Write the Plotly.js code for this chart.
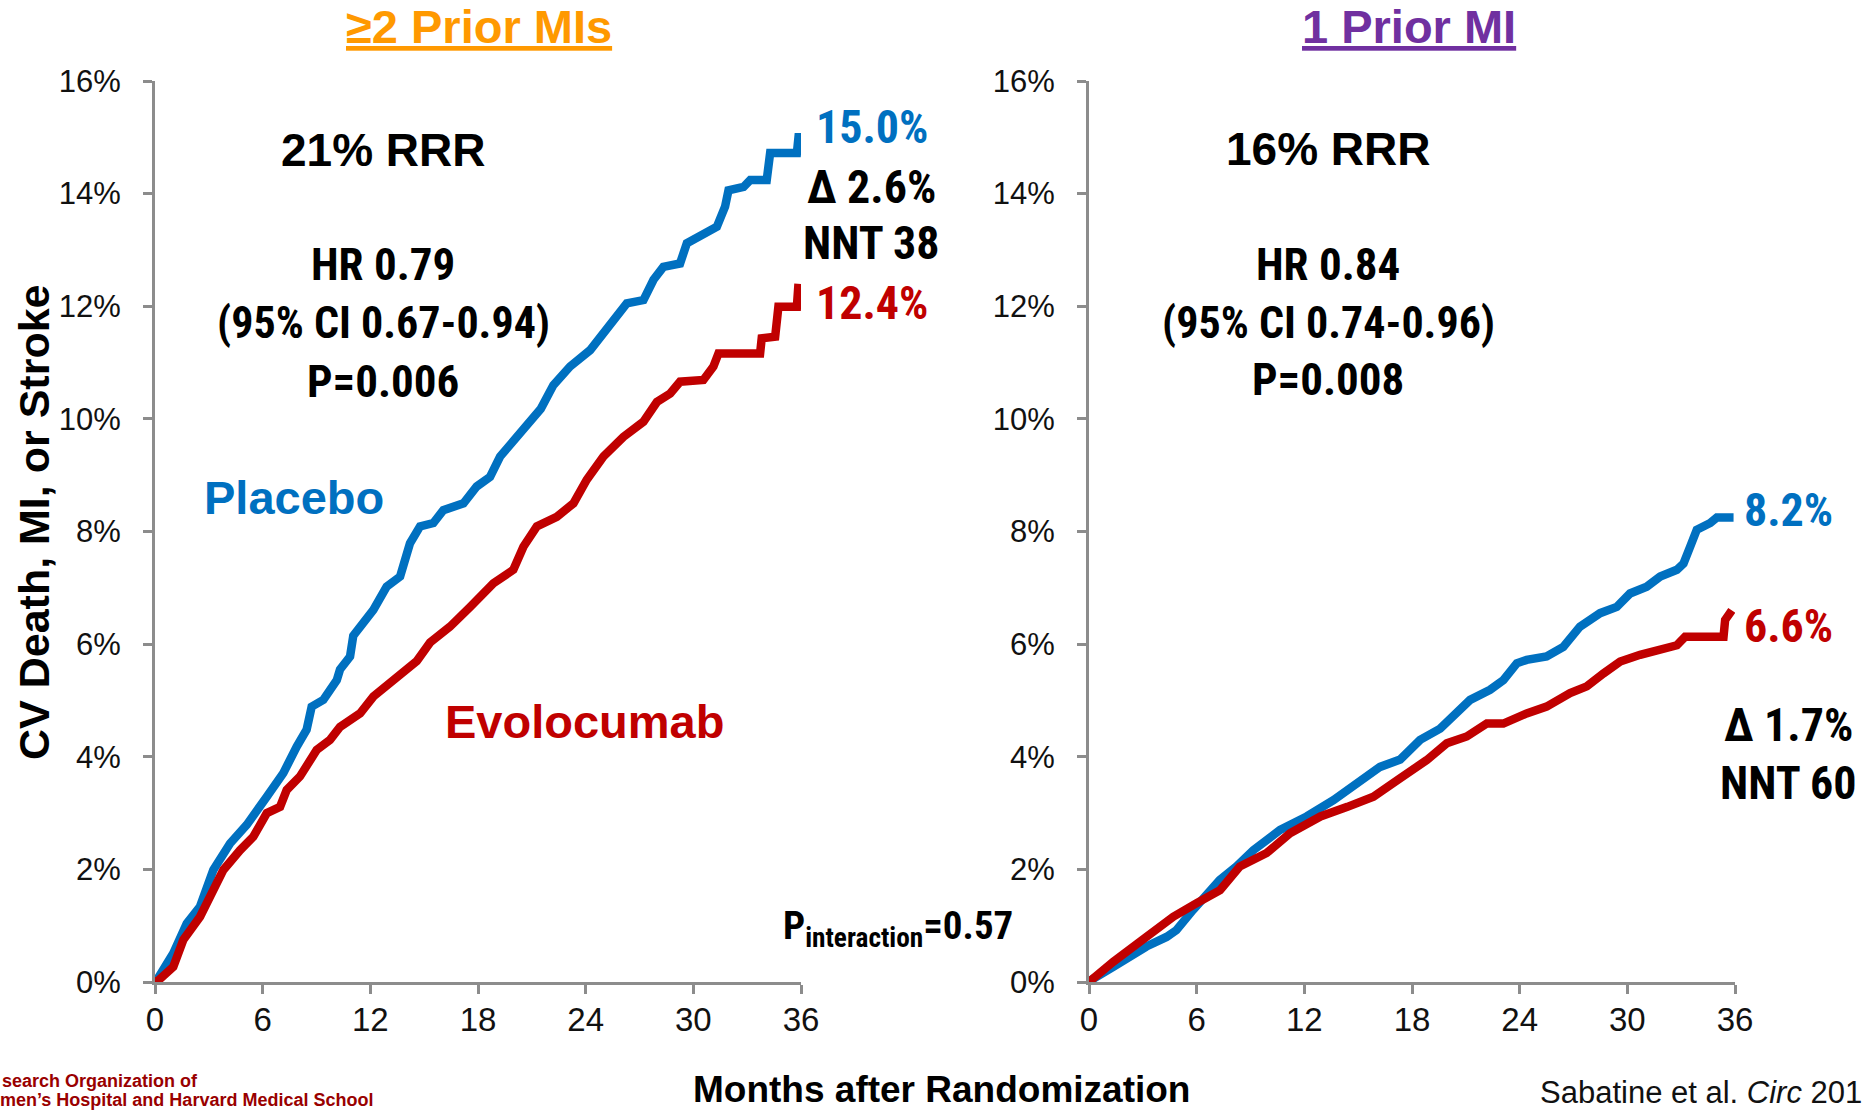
<!DOCTYPE html>
<html>
<head>
<meta charset="utf-8">
<script src="https://cdn.plot.ly/plotly-3.0.1.min.js"></script>
<style>html,body{margin:0;padding:0;background:#fff;}#chart{width:1865px;height:1110px;}</style>
</head>
<body>
<div id="chart"></div>
<script>
// ---------- DATA (months, cumulative %) ----------
// >=2 prior MIs, placebo
const multiPlaceboMonths = [0,0.1,1.02,1.77,2.51,3.25,4.18,5.11,6.23,7.15,7.9,8.45,8.73,9.38,10.13,10.31,10.87,11.05,12.17,12.91,13.66,14.21,14.77,15.51,16.07,17.19,17.93,18.67,19.23,20.16,20.9,21.5,22.2,23.13,24.25,25.18,25.92,26.29,27.22,27.78,28.33,29.26,29.64,30.56,31.31,31.77,31.96,32.8,33.17,34.09,34.28,35.77,35.86,36.0];
const multiPlaceboPct    = [0,0.03,0.51,1.04,1.34,1.99,2.46,2.79,3.29,3.71,4.18,4.48,4.89,5.01,5.36,5.55,5.78,6.15,6.61,7.02,7.2,7.79,8.09,8.15,8.38,8.5,8.8,8.97,9.33,9.68,10.0,10.18,10.6,10.93,11.22,11.58,11.87,12.05,12.11,12.47,12.7,12.76,13.12,13.29,13.41,13.77,14.06,14.12,14.24,14.24,14.72,14.72,15.0,15.0];
// >=2 prior MIs, evolocumab
const multiEvoMonths = [0,0.19,1.02,1.58,2.51,3.44,3.81,4.74,5.48,6.23,6.97,7.34,8.08,9.01,9.75,10.31,11.43,12.17,13.28,14.59,15.33,16.44,17.56,18.86,19.97,20.53,21.28,22.39,23.32,24.06,24.99,26.1,27.22,27.97,28.71,29.26,30.56,31.12,31.4,33.72,33.81,34.56,34.74,35.77,35.86];
const multiEvoPct    = [0,0.03,0.27,0.75,1.16,1.81,1.99,2.34,2.58,3.0,3.11,3.41,3.65,4.12,4.3,4.53,4.77,5.07,5.36,5.7,6.03,6.31,6.66,7.08,7.32,7.73,8.09,8.26,8.5,8.92,9.33,9.68,9.95,10.3,10.45,10.66,10.69,10.93,11.16,11.16,11.43,11.46,11.99,11.99,12.4];
// 1 prior MI, placebo
const singlePlaceboMonths = [0,0.15,1.35,3.2,4.32,4.87,5.8,7.28,8.21,9.16,10.65,12.13,13.62,14.92,16.22,17.34,18.45,19.57,20.5,21.24,22.35,23.09,23.84,24.39,25.5,26.43,27.36,28.48,29.41,30.15,31.08,31.83,32.76,33.13,33.5,33.87,34.62,34.99,35.92];
const singlePlaceboPct    = [0,0.04,0.27,0.63,0.8,0.92,1.28,1.81,2.05,2.34,2.7,2.94,3.23,3.53,3.82,3.95,4.3,4.5,4.77,5.01,5.19,5.36,5.66,5.72,5.78,5.95,6.31,6.55,6.66,6.9,7.02,7.2,7.32,7.43,7.73,8.03,8.15,8.25,8.25];
// 1 prior MI, evolocumab
const singleEvoMonths = [0,0.15,1.35,3.2,4.7,6.0,7.3,8.4,9.9,11.2,12.9,14.4,15.85,17.34,18.82,19.94,21.05,22.17,23.09,24.39,25.5,26.81,27.74,28.67,29.6,30.71,31.83,32.76,33.22,35.36,35.45,35.82];
const singleEvoPct    = [0,0.04,0.36,0.8,1.16,1.4,1.63,2.05,2.29,2.64,2.94,3.11,3.29,3.62,3.94,4.24,4.36,4.59,4.59,4.77,4.89,5.13,5.25,5.48,5.69,5.81,5.9,5.98,6.13,6.13,6.43,6.6];

const xTickVals = [0,6,12,18,24,30,36];
const yTickVals = [0,2,4,6,8,10,12,14,16];
const yTickText = ["0%","2%","4%","6%","8%","10%","12%","14%","16%"];
const panelTitles = ["≥2 Prior MIs", "1 Prior MI"];
const seriesNames = ["Placebo", "Evolocumab"];
const endLabels = [["15.0%","12.4%"],["8.2%","6.6%"]];
const statsText = [["21% RRR","HR 0.79","(95% CI 0.67-0.94)","P=0.006"],["16% RRR","HR 0.84","(95% CI 0.74-0.96)","P=0.008"]];
const diffText = [["Δ 2.6%","NNT 38"],["Δ 1.7%","NNT 60"]];

// ---------- STYLE ----------
const W = 1865, H = 1110;
const px = x => x / W;
const py = y => 1 - y / H;
const BLUE = '#0070C0', RED = '#C00000', ORANGE = '#FF9900', PURPLE = '#7030A0';
const AX = '#8C8C8C';
const ARIAL = 'Liberation Sans, Arial, sans-serif';
const NARROW = '"Liberation Sans Narrow", "Arial Narrow", "Roboto Condensed", "DejaVu Sans Condensed", sans-serif';

function line(x, y, color, xa, ya, name) {
  return {x: x, y: y, xaxis: xa, yaxis: ya, type: 'scatter', mode: 'lines', name: name,
          line: {color: color, width: 8.5, shape: 'linear'}, hoverinfo: 'skip', showlegend: false, cliponaxis: false};
}
const data = [
  line(multiPlaceboMonths, multiPlaceboPct, BLUE, 'x', 'y', seriesNames[0]),
  line(multiEvoMonths, multiEvoPct, RED, 'x', 'y', seriesNames[1]),
  line(singlePlaceboMonths, singlePlaceboPct, BLUE, 'x2', 'y2', seriesNames[0]),
  line(singleEvoMonths, singleEvoPct, RED, 'x2', 'y2', seriesNames[1])
];

function xaxis(domain, anchor) {
  return {domain: domain, anchor: anchor, range: [0, 36], tickvals: xTickVals, ticktext: xTickVals.map(String),
    showline: true, linecolor: AX, linewidth: 3, ticks: 'outside', ticklen: 9, tickwidth: 3, tickcolor: AX,
    showgrid: false, zeroline: false, fixedrange: true, ticklabelstandoff: -3,
    tickfont: {family: ARIAL, size: 33, color: '#111'}};
}
function yaxis(anchor) {
  return {domain: [py(982), py(81)], anchor: anchor, range: [0, 16], tickvals: yTickVals, ticktext: yTickText,
    showline: true, linecolor: AX, linewidth: 3, ticks: 'outside', ticklen: 9, tickwidth: 3, tickcolor: AX,
    showgrid: false, zeroline: false, fixedrange: true, ticklabelstandoff: 16,
    tickfont: {family: ARIAL, size: 31, color: '#111'}};
}

function ann(text, x, y, opts) {
  return Object.assign({text: text, x: px(x), y: py(y), xref: 'paper', yref: 'paper', showarrow: false,
    xanchor: 'center', yanchor: 'middle', font: {family: NARROW, size: 46, color: '#000', weight: 'bold'}}, opts || {});
}
const boldArial = (size, color) => ({family: ARIAL, size: size, color: color, weight: 'bold'});
const narrowBold = (size, color) => ({family: NARROW, size: size, color: color, weight: 'bold'});

const annotations = [
  // panel titles
  ann('<u>' + panelTitles[0] + '</u>', 479, 0, {yanchor: 'top', borderpad: 0, borderwidth: 0, font: boldArial(47, ORANGE)}),
  ann('<u>' + panelTitles[1] + '</u>', 1409, 0, {yanchor: 'top', borderpad: 0, borderwidth: 0, font: boldArial(47, PURPLE)}),
  // left panel stats
  ann(statsText[0][0], 383, 150, {font: boldArial(46, '#000')}),
  ann(statsText[0][1], 383, 264, {font: narrowBold(45, '#000')}),
  ann(statsText[0][2], 383, 323, {font: narrowBold(44, '#000')}),
  ann(statsText[0][3], 383, 381, {font: narrowBold(45, '#000')}),
  // right panel stats
  ann(statsText[1][0], 1328, 149, {font: boldArial(46, '#000')}),
  ann(statsText[1][1], 1328, 264, {font: narrowBold(45, '#000')}),
  ann(statsText[1][2], 1328, 323, {font: narrowBold(44, '#000')}),
  ann(statsText[1][3], 1328, 379, {font: narrowBold(45, '#000')}),
  // series labels
  ann(seriesNames[0], 294, 497, {font: boldArial(47, BLUE)}),
  ann(seriesNames[1], 584, 721, {font: boldArial(47, RED)}),
  // end labels left
  ann(endLabels[0][0], 814, 127, {xanchor: 'left', font: narrowBold(46, BLUE)}),
  ann(diffText[0][0], 871, 187, {font: narrowBold(46, '#000')}),
  ann(diffText[0][1], 871, 243, {font: narrowBold(46, '#000')}),
  ann(endLabels[0][1], 814, 303, {xanchor: 'left', font: narrowBold(46, RED)}),
  // end labels right
  ann(endLabels[1][0], 1742, 510, {xanchor: 'left', font: narrowBold(46, BLUE)}),
  ann(endLabels[1][1], 1742, 626, {xanchor: 'left', font: narrowBold(46, RED)}),
  ann(diffText[1][0], 1788, 725, {font: narrowBold(46, '#000')}),
  ann(diffText[1][1], 1788, 783, {font: narrowBold(46, '#000')}),
  // interaction p
  ann('P<sub>interaction</sub>=0.57', 781, 928, {xanchor: 'left', font: narrowBold(39, '#000')}),
  // axis titles
  ann('CV Death, MI, or Stroke', 34, 523, {textangle: -90, font: boldArial(43, '#000')}),
  ann('Months after Randomization', 941, 1110, {yanchor: 'bottom', borderpad: 0, borderwidth: 0, font: boldArial(37, '#000')}),
  // footers
  ann('search Organization of', 0, 1081, {xanchor: 'left', font: boldArial(18, '#990000')}),
  ann('men’s Hospital and Harvard Medical School', 0, 1110, {xanchor: 'left', yanchor: 'bottom', borderpad: 0, borderwidth: 0, font: boldArial(18, '#990000')}),
  ann('Sabatine et al. <i>Circ</i> 201', 1538, 1092, {xanchor: 'left', font: {family: ARIAL, size: 31, color: '#111'}})
];

const layout = {
  width: W, height: H, margin: {l: 0, r: 0, t: 0, b: 0}, paper_bgcolor: '#fff', plot_bgcolor: '#fff',
  showlegend: false,
  xaxis: xaxis([px(155), px(801)], 'y'),
  yaxis: yaxis('x'),
  xaxis2: xaxis([px(1089), px(1735)], 'y2'),
  yaxis2: yaxis('x2'),
  annotations: annotations
};

Plotly.newPlot('chart', data, layout, {staticPlot: true, displayModeBar: false});
</script>
</body>
</html>
